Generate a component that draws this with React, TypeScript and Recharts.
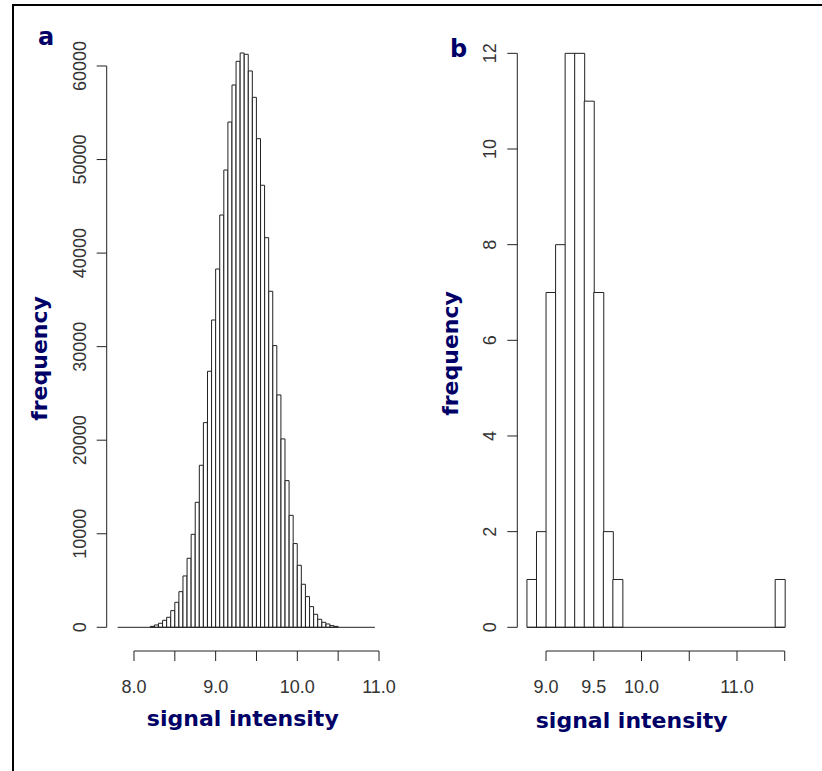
import { ComposedChart, Bar, XAxis, YAxis, ReferenceLine } from 'recharts';

// panel a: genome-wide signal intensity histogram (bin width 0.05)
const binStartA = 7.8;
const binWidthA = 0.05;
const countsA = [
  0, 0, 0, 0, 0, 0, 0, 0,
  100, 250, 430, 750, 1070, 1780, 2670, 3810, 5490, 7380,
  9940, 13360, 17320, 21880, 27370, 32850, 38300, 44070, 48880, 54010,
  57970, 60500, 61390, 61250, 59470, 56650, 52230, 47250, 41650, 35920,
  30110, 24840, 20140, 15680, 11970, 8950, 6630, 4600, 3280, 2210,
  1390, 855, 535, 356, 180, 100,
  0, 0, 0, 0, 0, 0, 0, 0, 0,
];
const xTicksA = [8.0, 8.5, 9.0, 9.5, 10.0, 10.5, 11.0];
const xLabelsA = ['8.0', '', '9.0', '', '10.0', '', '11.0'];
const yTicksA = [0, 10000, 20000, 30000, 40000, 50000, 60000];

// panel b: histogram of a small subset (bin width 0.1)
const binStartB = 8.8;
const binWidthB = 0.1;
const countsB = [1, 2, 7, 8, 12, 12, 11, 7, 2, 1, 0, 0, 0, 0, 0, 0, 0, 0, 0, 0, 0, 0, 0, 0, 0, 0, 1];
const xTicksB = [9.0, 9.5, 10.0, 10.5, 11.0, 11.5];
const xLabelsB = ['9.0', '9.5', '10.0', '', '11.0', ''];
const yTicksB = [0, 2, 4, 6, 8, 10, 12];

const NAVY = '#000066';
const TICK_FONT = '"Liberation Sans", Arial, sans-serif';
const LABEL_FONT = '"DejaVu Sans", Verdana, sans-serif';

function toBins(start: number, width: number, counts: number[]) {
  return counts.map((c, i) => ({ x: +(start + width * (i + 0.5)).toFixed(4), count: c }));
}

function YTick(props: any) {
  const { x, y, payload } = props;
  const tx = x - 9;
  return (
    <text
      x={tx}
      y={y}
      transform={`rotate(-90, ${tx}, ${y})`}
      textAnchor="middle"
      fill="#333"
      fontSize={18}
      fontFamily={TICK_FONT}
    >
      {payload.value}
    </text>
  );
}

interface HistProps {
  left: number;
  width: number;
  margin: { top: number; right: number; bottom: number; left: number };
  data: { x: number; count: number }[];
  xDomain: [number, number];
  yDomain: [number, number];
  xTicks: number[];
  xLabels: string[];
  yTicks: number[];
  binStart: number;
  binEnd: number;
}

function Histogram(p: HistProps) {
  return (
    <div style={{ position: 'absolute', left: p.left, top: 0 }}>
      <ComposedChart width={p.width} height={771} data={p.data} margin={p.margin} barCategoryGap={0} barGap={0}>
        <XAxis
          dataKey="x"
          type="number"
          domain={p.xDomain}
          allowDataOverflow
          ticks={p.xTicks}
          interval={0}
          axisLine={false}
          tickLine={{ stroke: '#222', strokeWidth: 1 }}
          tickSize={10}
          tickMargin={19}
          height={60}
          tick={{ fill: '#333', fontSize: 18, fontFamily: TICK_FONT }}
          tickFormatter={(v: number) => p.xLabels[p.xTicks.indexOf(v)] ?? ''}
        />
        <YAxis
          type="number"
          domain={p.yDomain}
          allowDataOverflow
          ticks={p.yTicks}
          interval={0}
          axisLine={false}
          tickLine={{ stroke: '#222', strokeWidth: 1 }}
          tickSize={10}
          tickMargin={2}
          width={60}
          tick={<YTick />}
        />
        <ReferenceLine
          segment={[{ x: p.xDomain[0], y: p.yTicks[0] }, { x: p.xDomain[0], y: p.yTicks[p.yTicks.length - 1] }]}
          stroke="#222"
          ifOverflow="visible"
        />
        <ReferenceLine
          segment={[{ x: p.xTicks[0], y: p.yDomain[0] }, { x: p.xTicks[p.xTicks.length - 1], y: p.yDomain[0] }]}
          stroke="#222"
          ifOverflow="visible"
        />
        <ReferenceLine
          segment={[{ x: p.binStart, y: 0 }, { x: p.binEnd, y: 0 }]}
          stroke="#222"
          ifOverflow="visible"
        />
        <Bar dataKey="count" fill="#fff" stroke="#222" strokeWidth={1} isAnimationActive={false} />
      </ComposedChart>
    </div>
  );
}

export default function App() {
  const dataA = toBins(binStartA, binWidthA, countsA);
  const dataB = toBins(binStartB, binWidthB, countsB);
  return (
    <div style={{ position: 'absolute', left: 0, top: 0, width: 822, height: 771, background: '#fff', overflow: 'hidden' }}>
      <Histogram
        left={0}
        width={400}
        margin={{ top: 30, right: 21, bottom: 60, left: 46.7 }}
        data={dataA}
        xDomain={[7.666, 11.0]}
        yDomain={[-2533, 63848]}
        xTicks={xTicksA}
        xLabels={xLabelsA}
        yTicks={yTicksA}
        binStart={binStartA}
        binEnd={binStartA + binWidthA * countsA.length}
      />
      <Histogram
        left={420}
        width={390}
        margin={{ top: 30, right: 20.5, bottom: 60, left: 37.3 }}
        data={dataB}
        xDomain={[8.699, 11.55]}
        yDomain={[-0.4955, 12.488]}
        xTicks={xTicksB}
        xLabels={xLabelsB}
        yTicks={yTicksB}
        binStart={binStartB}
        binEnd={binStartB + binWidthB * countsB.length}
      />
      <svg width={822} height={771} style={{ position: 'absolute', left: 0, top: 0, pointerEvents: 'none' }}>
        <rect x={12} y={4} width={2} height={767} fill="#000" />
        <rect x={12} y={4} width={810} height={2} fill="#000" />
        <g fill={NAVY} fontFamily={LABEL_FONT} fontWeight="bold">
          <text x={38} y={45} fontSize={24}>a</text>
          <text x={450} y={56.7} fontSize={24}>b</text>
          <text x={46.7} y={358.5} fontSize={22} textAnchor="middle" transform="rotate(-90, 46.7, 358.5)">frequency</text>
          <text x={458.3} y={353.5} fontSize={22} textAnchor="middle" transform="rotate(-90, 458.3, 353.5)">frequency</text>
          <text x={242.8} y={726} fontSize={22} textAnchor="middle">signal intensity</text>
          <text x={631.7} y={727.7} fontSize={22} textAnchor="middle">signal intensity</text>
        </g>
      </svg>
    </div>
  );
}
